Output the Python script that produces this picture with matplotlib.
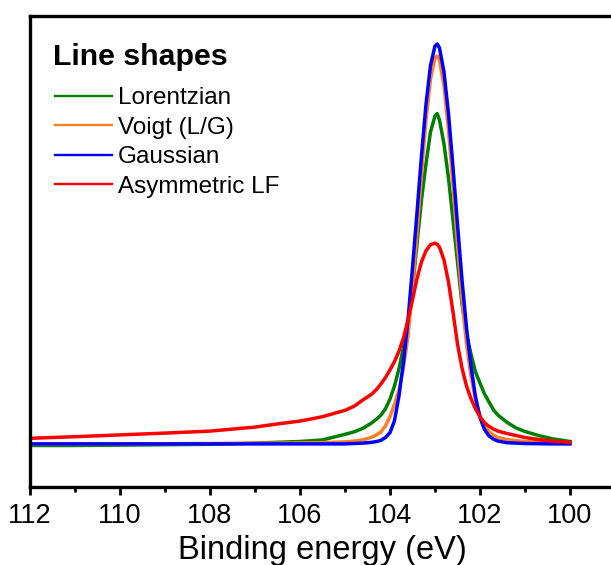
import matplotlib
matplotlib.use('Agg')
import matplotlib.pyplot as plt
from matplotlib.ticker import MultipleLocator

plt.rcParams['font.family'] = ['Liberation Sans', 'DejaVu Sans']

# binding energy grid (eV)
energy = [112, 111, 110, 109, 108, 107, 106.5, 106, 105.5, 105, 104.8, 104.6,
          104.4, 104.3, 104.2, 104.1, 104.0, 103.9, 103.8, 103.7, 103.6, 103.5,
          103.4, 103.3, 103.2, 103.1, 103.0, 102.95, 102.9, 102.8, 102.7, 102.6,
          102.5, 102.4, 102.3, 102.2, 102.1, 102.0, 101.9, 101.8, 101.7, 101.6,
          101.4, 101.2, 101.0, 100.7, 100.4, 100.0]

lorentzian = [-0.004, -0.004, -0.003, -0.002, -0.001, 0.002, 0.004, 0.006, 0.010, 0.024, 0.030, 0.039,
              0.053, 0.062, 0.072, 0.088, 0.112, 0.145, 0.188, 0.242, 0.292, 0.388,
              0.50, 0.61, 0.70, 0.78, 0.82, 0.826, 0.81, 0.75, 0.665, 0.56,
              0.455, 0.35, 0.275, 0.225, 0.18, 0.152, 0.125, 0.105, 0.085, 0.072,
              0.054, 0.040, 0.031, 0.021, 0.013, 0.006]

voigt = [0.0, 0.0, 0.0, 0.0005, 0.001, 0.0015, 0.002, 0.0025, 0.003, 0.005, 0.007, 0.010,
         0.017, 0.0225, 0.030, 0.045, 0.068, 0.100, 0.135, 0.19, 0.27, 0.39,
         0.53, 0.676, 0.81, 0.912, 0.965, 0.97, 0.96, 0.895, 0.785, 0.647,
         0.50, 0.364, 0.25, 0.17, 0.11, 0.07, 0.045, 0.030, 0.022, 0.016,
         0.011, 0.008, 0.006, 0.005, 0.004, 0.003]

gaussian = [0.0, 0.0, 0.0, 0.0, 0.0, 0.0, 0.0, 0.0, 0.0, 0.0, 0.001, 0.002,
            0.004, 0.006, 0.009, 0.016, 0.028, 0.058, 0.12, 0.205, 0.31, 0.44,
            0.578, 0.72, 0.849, 0.946, 0.995, 1.0, 0.99, 0.93, 0.826, 0.693,
            0.549, 0.411, 0.291, 0.195, 0.118, 0.066, 0.036, 0.020, 0.012, 0.007,
            0.003, 0.002, 0.001, 0.0005, 0.0, 0.0]

asym_lf = [0.014, 0.018, 0.0225, 0.027, 0.032, 0.042, 0.050, 0.057, 0.068, 0.084, 0.094, 0.110,
           0.125, 0.136, 0.150, 0.166, 0.185, 0.206, 0.232, 0.265, 0.31, 0.36,
           0.413, 0.455, 0.483, 0.498, 0.502, 0.499, 0.492, 0.46, 0.405, 0.33,
           0.25, 0.19, 0.145, 0.113, 0.088, 0.068, 0.053, 0.044, 0.037, 0.032,
           0.026, 0.021, 0.016, 0.011, 0.007, 0.004]

series = [
    ('Lorentzian', lorentzian, '#008000'),
    ('Voigt (L/G)', voigt, '#FF7F27'),
    ('Gaussian', gaussian, '#0000FF'),
    ('Asymmetric LF', asym_lf, '#FF0000'),
]

W, H = 611, 565
fig = plt.figure(figsize=(W / 100, H / 100), dpi=100)
ax = fig.add_axes([0.0491, 0.1386, 0.9574, 0.8331])

for name, vals, col in series:
    ax.plot(energy, vals, color=col, lw=2.5, label=name)

ax.set_xlim(112, 99)
ax.set_ylim(-0.107, 1.07)

for side in ['left', 'top', 'bottom', 'right']:
    ax.spines[side].set_linewidth(2.4)

ax.xaxis.set_major_locator(MultipleLocator(2))
ax.xaxis.set_minor_locator(MultipleLocator(1))
ax.tick_params(axis='x', which='major', direction='out', length=6, width=2, labelsize=19.5, pad=6)
ax.tick_params(axis='x', which='minor', direction='out', length=3.5, width=2)
ax.set_yticks([])
ax.set_xlabel('Binding energy (eV)', fontsize=23.5, labelpad=4)

# legend title as its own text so the gap below it matches
fig.text(53 / W, 1 - 65 / H, 'Line shapes', fontsize=21.8, fontweight='bold',
         va='baseline', ha='left')

leg = ax.legend(loc='upper left', bbox_to_anchor=(55 / W, 1 - 87 / H),
                bbox_transform=fig.transFigure, frameon=False,
                fontsize=17.5, handlelength=2.35, handletextpad=0.25,
                labelspacing=0.31, borderaxespad=0.0, borderpad=0.0)
for h in leg.get_lines():
    h.set_linewidth(1.7)

fig.savefig('out.png', dpi=100)
